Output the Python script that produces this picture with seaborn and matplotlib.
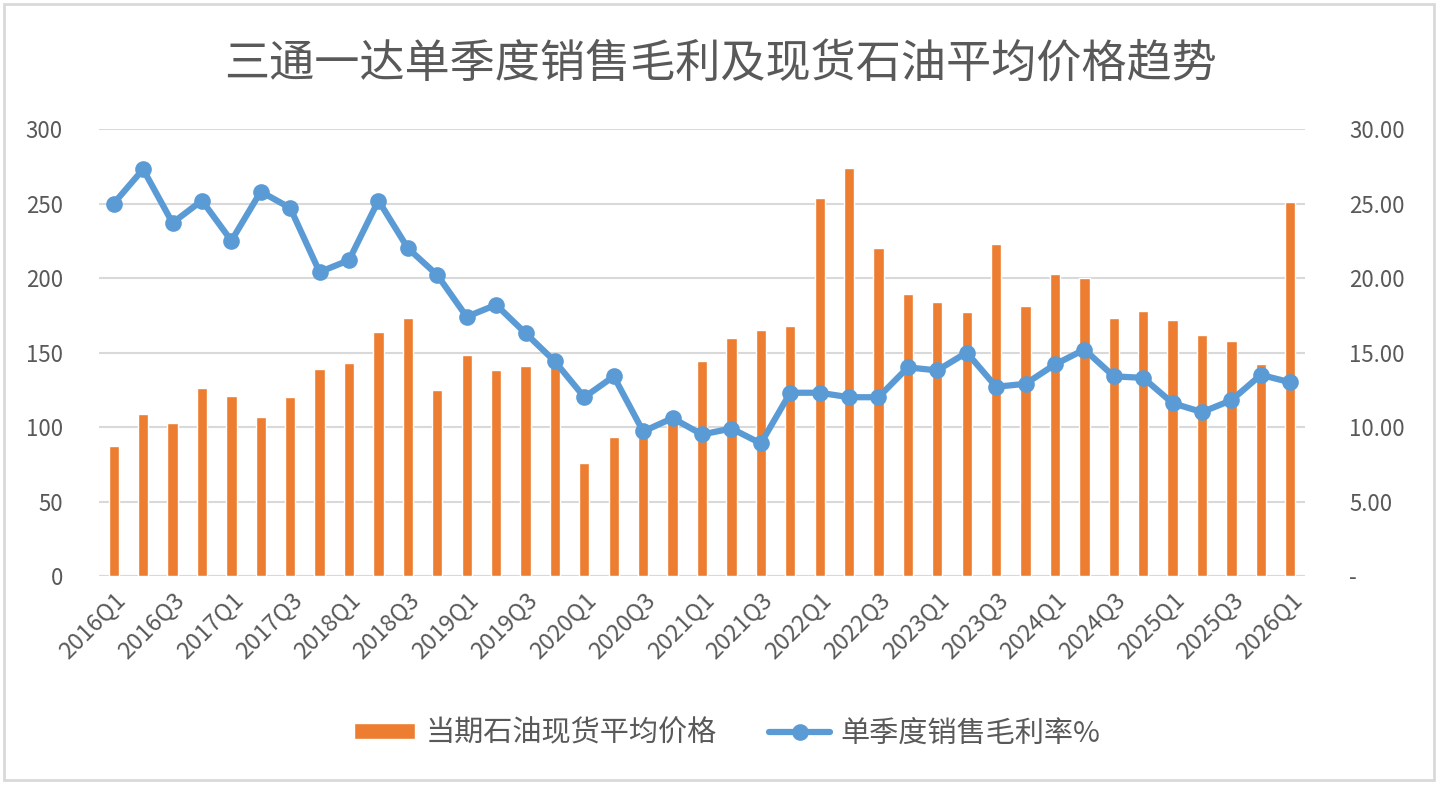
import numpy as np
import pandas as pd
import matplotlib
matplotlib.use("Agg")
import matplotlib.pyplot as plt
from matplotlib.patches import Rectangle
from matplotlib.ticker import FuncFormatter
import seaborn as sns

# data
quarters = [f"{y}Q{q}" for y in range(2016, 2026) for q in range(1, 5)] + ["2026Q1"]
oil_price = [87, 109, 103, 126, 121, 107, 120, 139, 143, 164, 173, 125,
             148, 138, 141, 142, 76, 93, 98, 104, 144, 160, 165, 168,
             254, 274, 220, 189, 184, 177, 223, 181, 203, 200, 173, 178,
             172, 162, 158, 142, 251]
gross_margin = [25.0, 27.3, 23.7, 25.2, 22.5, 25.8, 24.7, 20.4, 21.2, 25.2, 22.0, 20.2,
                17.4, 18.2, 16.3, 14.4, 12.0, 13.4, 9.7, 10.6, 9.5, 9.9, 8.9, 12.3,
                12.3, 12.0, 12.0, 14.0, 13.8, 15.0, 12.7, 12.9, 14.2, 15.2, 13.4, 13.3,
                11.6, 11.0, 11.8, 13.5, 13.0]

bar_label = "当期石油现货平均价格"
line_label = "单季度销售毛利率%"
title = "三通一达单季度销售毛利及现货石油平均价格趋势"

sns.set_theme(style="white")
plt.rcParams['font.family'] = ['Noto Sans CJK SC', 'DejaVu Sans']

text_color = "#595959"
grid_color = "#D9D9D9"
orange = "#ED7D31"
blue = "#5B9BD5"

df = pd.DataFrame({"quarter": quarters, "oil": oil_price, "margin": gross_margin})
df["pos"] = np.arange(len(df))

fig = plt.figure(figsize=(14.4, 7.92), dpi=100)
ax = fig.add_axes([0.06875, 0.2727, 0.8375, 0.5644])

sns.barplot(data=df, x="quarter", y="oil", color=orange, width=0.35,
            saturation=1, ax=ax, label=bar_label, zorder=2)
if ax.get_legend() is not None:
    ax.get_legend().remove()
ax.set_ylim(0, 300)
ax.set_yticks(range(0, 301, 50))
ax.grid(axis="y", color=grid_color, linewidth=1.5, zorder=0)
ax.set_axisbelow(True)
for s in ax.spines.values():
    s.set_visible(False)
ax.axhline(0, color=grid_color, linewidth=1.5, zorder=1)

ax2 = ax.twinx()
sns.lineplot(data=df, x="pos", y="margin", ax=ax2, color=blue, linewidth=4.5,
             marker="o", markersize=12, markeredgewidth=0, label=line_label,
             legend=False, zorder=3)
ax2.set_ylim(0, 30)
ax2.set_yticks(range(0, 31, 5))
ax2.yaxis.set_major_formatter(FuncFormatter(lambda v, p: "-" if v == 0 else f"{v:.2f}"))
for s in ax2.spines.values():
    s.set_visible(False)
ax.set_xlim(-0.5, len(df) - 0.5)

ax.set_xticks(df["pos"][::2])
ax.set_xticklabels(df["quarter"][::2], rotation=45, ha="right", rotation_mode="anchor")
ax.set_xlabel("")
ax.set_ylabel("")
ax2.set_xlabel("")
ax2.set_ylabel("")

ax.tick_params(axis="x", length=0, pad=9, labelsize=17, labelcolor=text_color)
ax.tick_params(axis="y", length=0, pad=26, labelsize=16, labelcolor=text_color)
ax2.tick_params(axis="y", length=0, pad=32, labelsize=16, labelcolor=text_color)

fig.suptitle(title, x=0.5, y=0.948, fontsize=32.5, color=text_color)

h1, l1 = ax.get_legend_handles_labels()
h2, l2 = ax2.get_legend_handles_labels()
fig.legend(h1 + h2, l1 + l2, loc="center", bbox_to_anchor=(0.505, 0.074), ncol=2,
           frameon=False, fontsize=21, labelcolor=text_color, handlelength=2.1,
           handleheight=0.45, columnspacing=1.8, handletextpad=0.35)

fig.patches.append(Rectangle((0.003, 0.015), 0.993, 0.98, transform=fig.transFigure,
                             fill=False, edgecolor=grid_color, linewidth=2))

fig.savefig("out.png", dpi=100)
